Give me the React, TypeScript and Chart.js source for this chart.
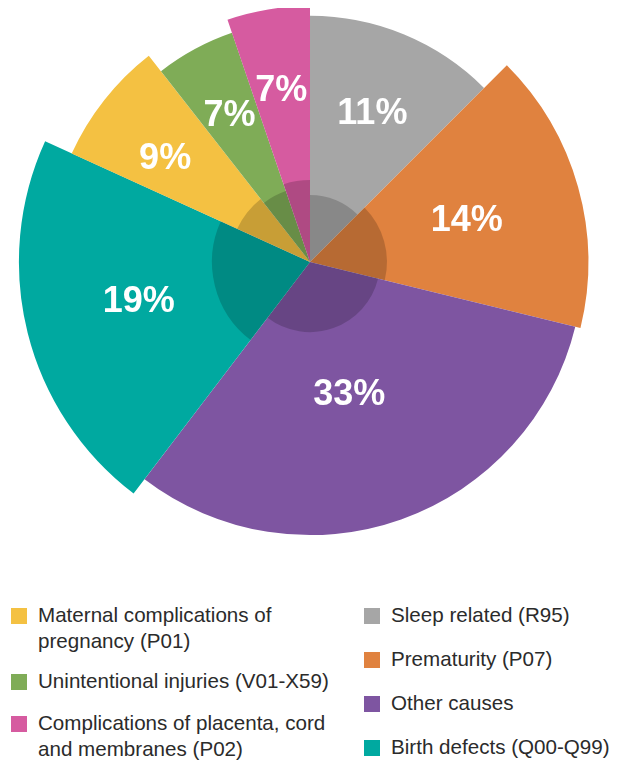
import React, { useEffect, useRef } from "react";
import { Chart, registerables } from "chart.js";

Chart.register(...registerables);

// Slices, clockwise from 12 o'clock
const categories = [
  "Sleep related (R95)",
  "Prematurity (P07)",
  "Other causes",
  "Birth defects (Q00-Q99)",
  "Maternal complications of pregnancy (P01)",
  "Unintentional injuries (V01-X59)",
  "Complications of placenta, cord and membranes (P02)",
];
const percentLabels = ["11%", "14%", "33%", "19%", "9%", "7%", "7%"];
// angular size of each slice (degrees)
const sliceAngles = [45, 58.7, 113.6, 77.2, 27.5, 19.2, 18.8];
// outer radius of each slice (scale units, scale max = 100)
const outerValues = [96.9, 109.6, 107.5, 114.6, 103.1, 95.3, 100.8];
// radius of the darker inner part of each slice (scale units)
const innerValues = [26.4, 30.3, 27.6, 38.6, 31.5, 29.5, 32.3];

const sliceColors = ["#a6a6a6", "#e0823f", "#7e55a1", "#00a9a0", "#f4c142", "#7fac57", "#d65ba0"];

// label placement: fraction of outer radius, angle tweak (deg)
const labelPlacement = [
  { f: 0.662, da: 0 },
  { f: 0.585, da: 0 },
  { f: 0.498, da: 2.7 },
  { f: 0.602, da: 2 },
  { f: 0.686, da: -2 },
  { f: 0.699, da: 0 },
  { f: 0.6875, da: 0 },
];

// legend layout (two columns)
const legendLeft = [4, 5, 6];
const legendRight = [0, 1, 2, 3];
const legendLines: Record<number, string[]> = {
  0: ["Sleep related (R95)"],
  1: ["Prematurity (P07)"],
  2: ["Other causes"],
  3: ["Birth defects (Q00-Q99)"],
  4: ["Maternal complications of", "pregnancy (P01)"],
  5: ["Unintentional injuries (V01-X59)"],
  6: ["Complications of placenta, cord", "and membranes (P02)"],
};
const leftTops = [594, 659.7, 702.3];
const rightTops = [594, 638, 682.3, 726.3];

const labelPlugin = {
  id: "sliceLabels",
  afterDatasetsDraw(chart: any) {
    const meta = chart.getDatasetMeta(1);
    const ctx = chart.ctx;
    ctx.save();
    ctx.font = 'bold 36px "Helvetica Neue", Helvetica, Arial, "Liberation Sans", sans-serif';
    ctx.fillStyle = "#ffffff";
    ctx.textAlign = "center";
    ctx.textBaseline = "alphabetic";
    meta.data.forEach((arc: any, i: number) => {
      const p = arc.getProps(["x", "y", "startAngle", "endAngle", "outerRadius"], true);
      const pl = labelPlacement[i];
      const mid = (p.startAngle + p.endAngle) / 2 + (pl.da * Math.PI) / 180;
      const r = p.outerRadius * pl.f;
      ctx.fillText(percentLabels[i], p.x + Math.cos(mid) * r, p.y + Math.sin(mid) * r + 13);
    });
    ctx.restore();
  },
};

function LegendItem({ idx, top, left }: { idx: number; top: number; left: number }) {
  return (
    <div
      style={{
        position: "absolute",
        top,
        left,
        display: "flex",
        alignItems: "flex-start",
      }}
    >
      <div
        style={{
          width: 16,
          height: 16,
          marginTop: 6,
          marginRight: 11,
          background: sliceColors[idx],
          flex: "0 0 auto",
        }}
      />
      <div style={{ lineHeight: "26px" }}>
        {legendLines[idx].map((l, k) => (
          <div key={k} style={{ whiteSpace: "nowrap" }}>
            {l}
          </div>
        ))}
      </div>
    </div>
  );
}

export default function App() {
  const canvasRef = useRef<HTMLCanvasElement | null>(null);

  useEffect(() => {
    if (!canvasRef.current) return;
    const chart = new Chart(canvasRef.current, {
      type: "polarArea",
      data: {
        labels: categories,
        datasets: [
          {
            label: "inner",
            data: innerValues,
            backgroundColor: "rgba(0,0,0,0.18)",
            borderWidth: 0,
            angle: (c: any) => sliceAngles[c.dataIndex],
            clip: false,
          } as any,
          {
            label: "share",
            data: outerValues,
            backgroundColor: sliceColors,
            borderWidth: 0,
            angle: (c: any) => sliceAngles[c.dataIndex],
            clip: false,
          } as any,
        ],
      },
      options: {
        animation: false,
        responsive: true,
        maintainAspectRatio: false,
        layout: { padding: { left: 0, right: 5, top: 0, bottom: 72 } },
        scales: {
          r: {
            display: false,
            min: 0,
            max: 100,
            startAngle: 0,
          },
        },
        plugins: {
          legend: { display: false },
          tooltip: { enabled: false },
        },
        events: [],
      } as any,
      plugins: [labelPlugin],
    });
    return () => chart.destroy();
  }, []);

  return (
    <div
      style={{
        position: "relative",
        width: "100%",
        height: 753,
        fontFamily: '"Helvetica Neue", Helvetica, Arial, "Liberation Sans", sans-serif',
        fontSize: 20.6,
        color: "#2b2b2b",
      }}
    >
      <div style={{ position: "relative", height: 580 }}>
        <canvas ref={canvasRef} />
      </div>
      {legendLeft.map((idx, k) => (
        <LegendItem key={idx} idx={idx} top={leftTops[k]} left={3} />
      ))}
      {legendRight.map((idx, k) => (
        <LegendItem key={idx} idx={idx} top={rightTops[k]} left={356} />
      ))}
    </div>
  );
}
